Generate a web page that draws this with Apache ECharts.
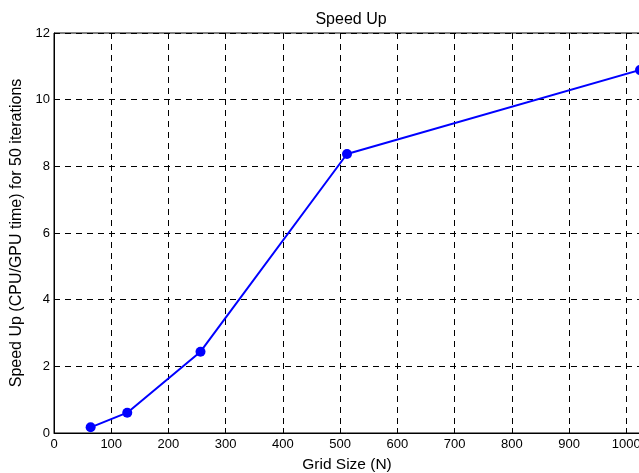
<!DOCTYPE html>
<html>
<head>
<meta charset="utf-8">
<script src="https://cdn.jsdelivr.net/npm/echarts@6/dist/echarts.min.js"></script>
<style>
  html, body { margin: 0; padding: 0; background: #fff; overflow: hidden; }
  #chart { width: 639px; height: 473px; }
</style>
</head>
<body>
<div id="chart"></div>
<script>
// Grid sizes tested and the measured CPU/GPU speed-up at each size
const gridSizes = [64, 128, 256, 512, 1024];
const speedUp = [0.17, 0.61, 2.44, 8.37, 10.89];

const xTicks = { min: 0, max: 1024, interval: 100 };
const yTicks = { min: 0, max: 12, interval: 2 };

const font = 'Liberation Sans, Arial, Helvetica, sans-serif';
const dashed = { color: '#000', width: 1, type: [6, 5] };

const chart = echarts.init(document.getElementById('chart'), null, { renderer: 'canvas' });
chart.setOption({
  animation: false,
  backgroundColor: '#fff',
  title: {
    text: 'Speed Up',
    left: 346, top: 7,
    textAlign: 'center',
    textStyle: { fontFamily: font, fontSize: 16, fontWeight: 'normal', color: '#000' }
  },
  grid: {
    left: 54, top: 33, right: -1, bottom: 40,
    containLabel: false,
    outerBoundsMode: 'none',
    show: true, borderColor: '#000', borderWidth: 1, backgroundColor: 'transparent'
  },
  xAxis: {
    type: 'value',
    min: xTicks.min, max: xTicks.max, interval: xTicks.interval,
    name: 'Grid Size (N)',
    nameLocation: 'middle', nameGap: 24,
    nameTextStyle: { fontFamily: font, fontSize: 15.5, color: '#000' },
    axisLine: { lineStyle: { color: '#000', width: 1 } },
    axisTick: { inside: true, length: 5, lineStyle: { color: '#000' } },
    axisLabel: {
      fontFamily: font, fontSize: 13, color: '#000', margin: 5,
      showMaxLabel: false, formatter: v => String(v)
    },
    splitLine: { show: true, lineStyle: dashed }
  },
  yAxis: {
    type: 'value',
    min: yTicks.min, max: yTicks.max, interval: yTicks.interval,
    name: 'Speed Up (CPU/GPU time) for 50 iterations',
    nameLocation: 'middle', nameGap: 27,
    nameTextStyle: { fontFamily: font, fontSize: 16, color: '#000' },
    axisLine: { lineStyle: { color: '#000', width: 1 } },
    axisTick: { inside: true, length: 5, lineStyle: { color: '#000' } },
    axisLabel: { fontFamily: font, fontSize: 13, color: '#000', margin: 4 },
    splitLine: { show: true, lineStyle: dashed }
  },
  series: [{
    type: 'line',
    data: gridSizes.map((n, i) => [n, speedUp[i]]),
    symbol: 'circle',
    symbolSize: 10,
    lineStyle: { color: '#0000ff', width: 2 },
    itemStyle: { color: '#0000ff' },
    clip: false
  }]
});
</script>
</body>
</html>
